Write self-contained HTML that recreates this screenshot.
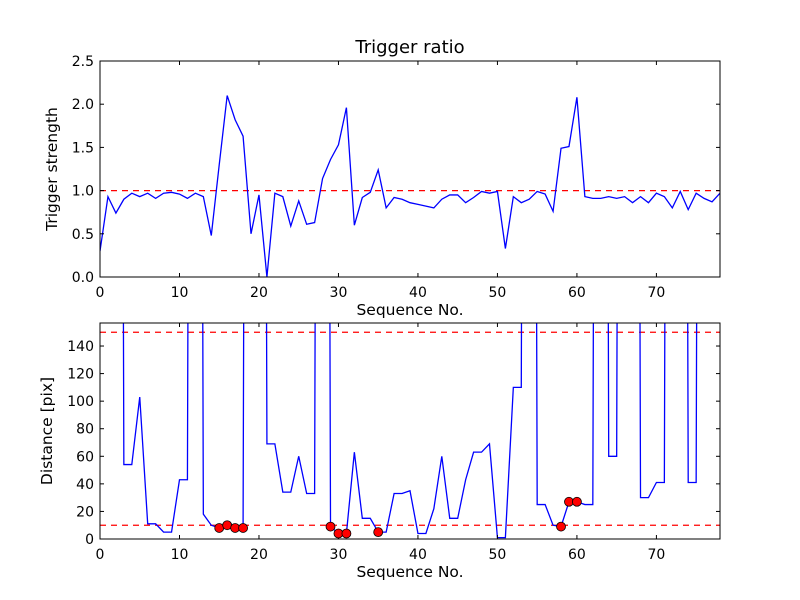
<!DOCTYPE html>
<html><head><meta charset="utf-8"><style>
body{margin:0;background:#fff}
svg{display:block;font-family:"DejaVu Sans","Liberation Sans",sans-serif}
</style></head><body>
<svg id="fig" width="800" height="600">
<rect width="800" height="600" fill="#fff"/>
<defs>
<clipPath id="c1"><rect x="100" y="61" width="620" height="216"/></clipPath>
<clipPath id="c2"><rect x="100" y="323" width="620" height="216"/></clipPath>
</defs>
<g id="top"></g>
<g id="bot"></g>
</svg>
<script>
const strength=[0.3,0.93,0.74,0.9,0.97,0.93,0.97,0.91,0.97,0.98,0.96,0.91,0.97,0.93,0.48,1.3,2.1,1.82,1.63,0.5,0.95,0.0,0.97,0.93,0.59,0.88,0.61,0.63,1.14,1.36,1.53,1.96,0.6,0.92,0.98,1.24,0.8,0.92,0.9,0.86,0.84,0.82,0.8,0.9,0.95,0.95,0.86,0.92,0.99,0.97,0.99,0.33,0.93,0.86,0.9,0.99,0.96,0.76,1.49,1.51,2.08,0.93,0.91,0.91,0.93,0.91,0.93,0.86,0.93,0.86,0.97,0.93,0.8,0.99,0.78,0.97,0.91,0.87,0.97];
const distance=[2000,2000,2000,54,54,103,11,11,5,5,43,43,2000,18,10,8,10,8,8,2000,2000,69,69,34,34,60,33,33,2000,9,4,4,63,15,15,5,5,33,33,35,4,4,22,60,15,15,43,63,63,69,1,1,110,110,2000,25,25,10,9,27,27,25,25,2000,60,60,2000,2000,30,30,41,41,2000,2000,41,41,2000,2000,2000];
const markedIdx=[15,16,17,18,29,30,31,35,58,59,60];
const xTicks=[0,10,20,30,40,50,60,70];
const yTicksTop=[0.0,0.5,1.0,1.5,2.0,2.5];
const yTicksBot=[0,20,40,60,80,100,120,140];
const thrTop=[1.0];
const thrBot=[10,150];

const NS="http://www.w3.org/2000/svg";
function mk(p,t,a){const e=document.createElementNS(NS,t);for(const k in a)e.setAttribute(k,a[k]);p.appendChild(e);return e;}
const X0=100,X1=720,XMAX=78;
const sx=v=>X0+(X1-X0)*v/XMAX;

function panel(g,y0,y1,ymax,vals,yt,thr,clip,ylabel,fmt){
  const sy=v=>y1-(y1-y0)*v/ymax;
  for(const t of thr){
    const l=mk(g,'line',{x1:X0,x2:X1,y1:sy(t),y2:sy(t),stroke:'#f00','stroke-width':1.3,'stroke-dasharray':'6,5'});
    
    
  }
  const pl=mk(g,'polyline',{points:vals.map((v,i)=>sx(i)+','+sy(v)).join(' '),fill:'none',stroke:'#00f','stroke-width':1.3,'clip-path':clip});
  
  
  mk(g,'rect',{x:X0,y:y0,width:X1-X0,height:y1-y0,fill:'none',stroke:'#000','stroke-width':1});
  for(const t of xTicks){
    const x=sx(t);
    mk(g,'line',{x1:x,x2:x,y1:y1,y2:y1-4,stroke:'#000'});
    mk(g,'line',{x1:x,x2:x,y1:y0,y2:y0+4,stroke:'#000'});
    const tx=mk(g,'text',{x:x,y:y1+20,'font-size':14,'text-anchor':'middle'});tx.textContent=t;
    
    
  }
  for(const t of yt){
    const y=sy(t);
    mk(g,'line',{x1:X0,x2:X0+4,y1:y,y2:y,stroke:'#000'});
    mk(g,'line',{x1:X1,x2:X1-4,y1:y,y2:y,stroke:'#000'});
    const tx=mk(g,'text',{x:X0-6,y:y+5,'font-size':14,'text-anchor':'end'});tx.textContent=fmt(t);
    
    
  }
  const xl=mk(g,'text',{x:(X0+X1)/2,y:y1+38,'font-size':15.5,'text-anchor':'middle'});xl.textContent='Sequence No.';
  
  
  const cy=(y0+y1)/2;
  const yl=mk(g,'text',{x:0,y:0,'font-size':15.5,'text-anchor':'middle',transform:`translate(${ylabel[1]},${cy}) rotate(-90)`});yl.textContent=ylabel[0];
  
  
  return sy;
}
const gt=document.getElementById('top'),gb=document.getElementById('bot');
panel(gt,61,277,2.5,strength,yTicksTop,thrTop,'url(#c1)',['Trigger strength',57],v=>v.toFixed(1));
const t=mk(gt,'text',{x:410,y:53,'font-size':18,'text-anchor':'middle'});t.textContent='Trigger ratio';


const syb=panel(gb,323,539,156.7,distance,yTicksBot,thrBot,'url(#c2)',['Distance [pix]',52],v=>String(v));
for(const i of markedIdx){
  const c=mk(gb,'circle',{cx:sx(i),cy:syb(distance[i]),r:4.5,fill:'#f00',stroke:'#000','stroke-width':0.8});
  
  
}
</script>
</body></html>
